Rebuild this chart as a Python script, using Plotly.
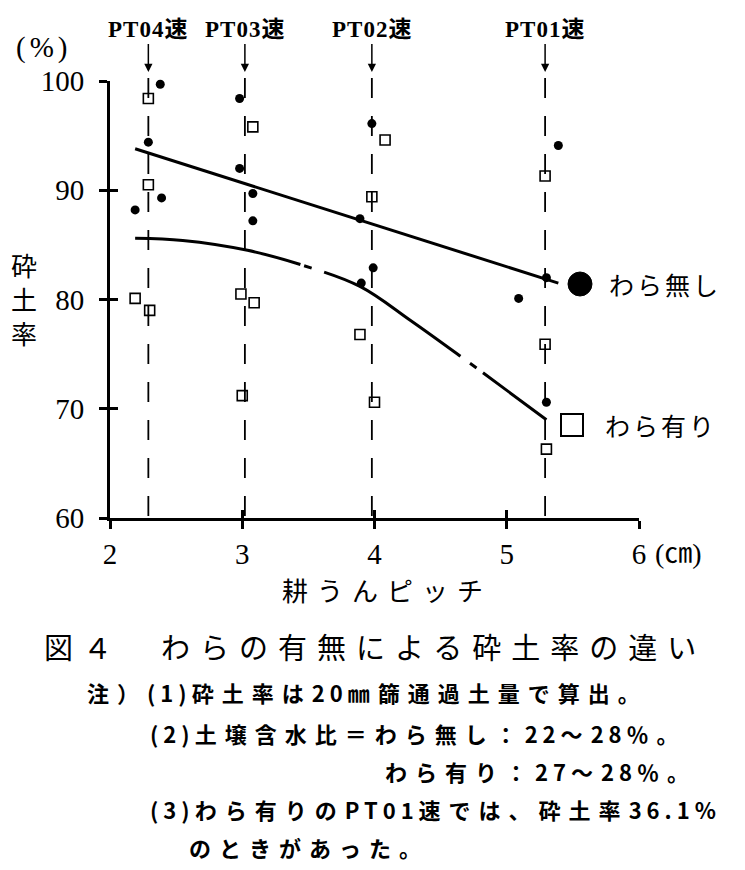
import plotly.graph_objects as go

# ---------------- data ----------------
pt_labels = ["PT04速", "PT03速", "PT02速", "PT01速"]
pt_x = [2.29, 3.02, 3.98, 5.29]

# わら無し (filled circles)
nashi_x = [2.38, 2.98, 2.29, 2.98, 3.08, 2.39, 2.19, 3.08, 3.98, 5.39, 3.89, 3.99, 3.90, 5.30, 5.09, 5.30]
nashi_y = [99.7, 98.4, 94.4, 92.0, 89.7, 89.3, 88.2, 87.2, 96.1, 94.1, 87.4, 82.9, 81.5, 82.0, 80.1, 70.6]

# わら有り (open squares)
ari_x = [2.29, 3.08, 2.29, 2.19, 2.99, 3.09, 2.30, 3.00, 4.08, 5.29, 3.98, 3.89, 5.29, 4.00, 5.30]
ari_y = [98.4, 95.8, 90.5, 80.1, 80.5, 79.7, 79.0, 71.2, 94.6, 91.3, 89.4, 76.8, 75.9, 70.6, 66.3]

# fitted lines
fit_nashi_x = [2.19, 5.39]
fit_nashi_y = [93.8, 81.5]
fit_ari_x = [2.19, 2.55, 3.04, 3.44, 3.89, 4.27, 4.65, 5.30]
fit_ari_y = [85.6, 85.4, 84.5, 83.2, 81.2, 78.1, 74.8, 69.0]

x_ticks = [2, 3, 4, 5, 6]
y_ticks = [60, 70, 80, 90, 100]

legend_labels = ["わら無し", "わら有り"]
y_title = "砕土率"
x_title = "耕うんピッチ"
unit_y = "(%)"
unit_x = "(㎝)"
caption = "図４　わらの有無による砕土率の違い"
notes = [
    "注）(1)砕土率は20㎜篩通過土量で算出。",
    "(2)土壌含水比＝わら無し：22〜28％。",
    "わら有り：27〜28％。",
    "(3)わら有りのPT01速では、砕土率36.1%",
    "のときがあった。",
]

# ---------------- layout helpers ----------------
W, H = 745, 870
L, R, T, B = 110, 106, 81, 352
PW, PH = W - L - R, H - T - B


def px(x):
    return (x - L) / PW


def py(y):
    return (H - B - y) / PH


CJK = "Noto Sans CJK JP"
SERIF = "Liberation Serif, Noto Sans CJK JP"


def ls(text, sp):
    return f'<span style="letter-spacing:{sp}px">{text}</span>'


def ls_mixed(text, sp_cjk, sp_ascii):
    runs, cur, cur_ascii = [], "", None
    for ch in text:
        a = ord(ch) < 128
        if cur and a != cur_ascii:
            runs.append((cur, cur_ascii))
            cur = ""
        cur += ch
        cur_ascii = a
    if cur:
        runs.append((cur, cur_ascii))
    return "".join(ls(t, sp_ascii if a else sp_cjk) for t, a in runs)


fig = go.Figure()

# fitted lines
fig.add_trace(go.Scatter(x=fit_nashi_x, y=fit_nashi_y, mode="lines",
                         line=dict(color="black", width=3), hoverinfo="skip"))
fig.add_trace(go.Scatter(x=fit_ari_x, y=fit_ari_y, mode="lines",
                         line=dict(color="black", width=3, shape="spline",
                                   dash="168px,4px,8px,13px,161px,12px,8px,8px,120px"),
                         hoverinfo="skip"))
# points
fig.add_trace(go.Scatter(x=nashi_x, y=nashi_y, mode="markers",
                         marker=dict(symbol="circle", size=9, color="black"),
                         cliponaxis=False))
fig.add_trace(go.Scatter(x=ari_x, y=ari_y, mode="markers",
                         marker=dict(symbol="square-open", size=10, color="black",
                                     line=dict(width=1.6, color="black")),
                         cliponaxis=False))
# dummy trace for the inner-tick overlay axes
fig.add_trace(go.Scatter(x=[None], y=[None], xaxis="x2", yaxis="y2", showlegend=False))

shapes = []
for x in pt_x:
    shapes.append(dict(type="line", xref="x", yref="paper", x0=x, x1=x,
                       y0=py(78), y1=0, line=dict(color="black", width=1.8, dash="20px,18px")))
# legend symbols
shapes.append(dict(type="circle", xref="paper", yref="paper",
                   x0=px(568), x1=px(592), y0=py(296), y1=py(272),
                   fillcolor="black", line=dict(color="black", width=1)))
shapes.append(dict(type="rect", xref="paper", yref="paper",
                   x0=px(561), x1=px(583), y0=py(436), y1=py(414),
                   fillcolor="white", line=dict(color="black", width=2)))

ann = []
for lab, x in zip(pt_labels, pt_x):
    ann.append(dict(x=x, y=py(72), xref="x", yref="paper", text="<b>" + ls(lab, 1) + "</b>",
                    showarrow=True, ax=0, ay=-42, arrowhead=2, arrowsize=1.1,
                    arrowwidth=1.5, arrowcolor="black", standoff=0,
                    font=dict(family=SERIF, size=23, color="black")))


def txt(x, y, text, size, family=CJK, xanchor="center"):
    return dict(x=px(x), y=py(y), xref="paper", yref="paper", xanchor=xanchor,
                yanchor="middle", text=text, showarrow=False,
                font=dict(family=family, size=size, color="black"))


ann.append(txt(43, 48, ls(unit_y, 4), 29, SERIF))
ann.append(txt(24, 298, "<br>".join(list(y_title)), 26))
ann.append(txt(653, 553, unit_x, 28, SERIF, "left"))
ann.append(txt(280, 589, ls(x_title, 9), 26, CJK, "left"))
ann.append(txt(607, 284, ls(legend_labels[0], 3), 25, CJK, "left"))
ann.append(txt(603, 425, ls(legend_labels[1], 3), 25, CJK, "left"))
ann.append(txt(42, 646, ls(caption, 10), 29, CJK, "left"))

note_pos = [(85, 692), (148, 733), (383, 771), (148, 809), (187, 847)]
for t, (nx, ny) in zip(notes, note_pos):
    ann.append(txt(nx, ny, "<b>" + ls_mixed(t, 8, 5) + "</b>", 22, CJK, "left"))

axis_common = dict(showgrid=False, zeroline=False, color="black")
fig.update_layout(
    width=W, height=H,
    margin=dict(l=L, r=R, t=T, b=B, pad=0),
    paper_bgcolor="white", plot_bgcolor="white",
    showlegend=False,
    xaxis=dict(range=[2, 6], tickvals=x_ticks, ticks="outside", ticklen=8, tickwidth=2.5,
               tickcolor="black", showline=True, linewidth=3, linecolor="black",
               ticklabelstandoff=0,
               tickfont=dict(family=SERIF, size=29, color="black"), **axis_common),
    yaxis=dict(range=[60, 100], tickvals=y_ticks, ticks="outside", ticklen=8, tickwidth=2.5,
               tickcolor="black", showline=True, linewidth=3, linecolor="black",
               ticklabelstandoff=9,
               tickfont=dict(family=SERIF, size=29, color="black"), **axis_common),
    xaxis2=dict(range=[2, 6], tickvals=x_ticks, ticks="inside", ticklen=8, tickwidth=2.5,
                tickcolor="black", showticklabels=False, showline=False,
                overlaying="x", anchor="y2", **axis_common),
    yaxis2=dict(range=[60, 100], tickvals=y_ticks, ticks="inside", ticklen=8, tickwidth=2.5,
                tickcolor="black", showticklabels=False, showline=False,
                overlaying="y", anchor="x2", side="left", **axis_common),
    shapes=shapes,
    annotations=ann,
)

fig.write_html("out.html")
